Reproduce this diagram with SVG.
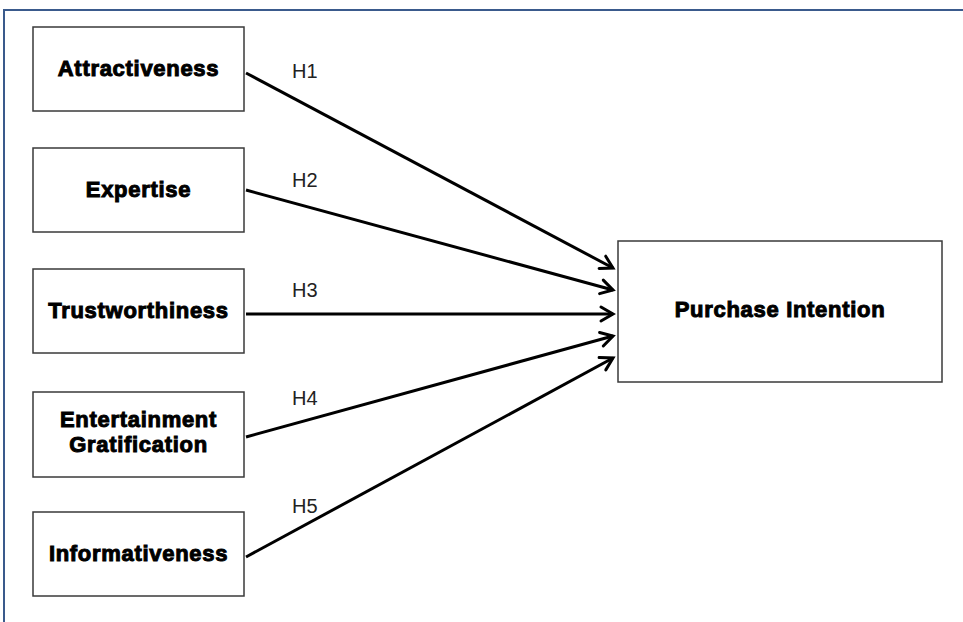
<svg xmlns="http://www.w3.org/2000/svg" width="963" height="622" viewBox="0 0 963 622">
<style>
.box{fill:#fff;stroke:#3a3a3a;stroke-width:1.5}
.lbl{font-family:"Liberation Sans",Arial,sans-serif;font-weight:bold;font-size:22px;letter-spacing:0.7px;fill:#000;stroke:#000;stroke-width:1;text-anchor:middle}
.h{font-family:"Liberation Sans",Arial,sans-serif;font-size:20px;fill:#222}
.edge{stroke:#000;stroke-width:3;fill:none;marker-end:url(#arr)}
</style>
<defs>
<marker id="arr" markerUnits="userSpaceOnUse" markerWidth="20" markerHeight="20" viewBox="0 0 20 20" refX="17" refY="10" orient="auto">
<path d="M5,3 L17,10 L5,17" fill="none" stroke="#000" stroke-width="3" stroke-linecap="round" stroke-linejoin="miter"/>
</marker>
</defs>
<rect width="963" height="622" fill="#fff"/>
<path d="M4,622 V10 H963" fill="none" stroke="#3a5a8c" stroke-width="2"/>
<g id="connectors">
<line class="edge" x1="246" y1="73" x2="613" y2="268"/>
<line class="edge" x1="246" y1="190" x2="613" y2="290"/>
<line class="edge" x1="246" y1="314" x2="613" y2="314"/>
<line class="edge" x1="246" y1="437" x2="613" y2="336"/>
<line class="edge" x1="246" y1="557" x2="613" y2="358"/>
<text class="h" x="292" y="78">H1</text>
<text class="h" x="292" y="187">H2</text>
<text class="h" x="292" y="297">H3</text>
<text class="h" x="292" y="405">H4</text>
<text class="h" x="292" y="513">H5</text>
</g>
<g id="attractiveness">
<rect class="box" x="33" y="27" width="211" height="84"/>
<text class="lbl" x="138.5" y="76">Attractiveness</text>
</g>
<g id="expertise">
<rect class="box" x="33" y="148" width="211" height="84"/>
<text class="lbl" x="138.5" y="197">Expertise</text>
</g>
<g id="trustworthiness">
<rect class="box" x="33" y="269" width="211" height="84"/>
<text class="lbl" x="138.5" y="318">Trustworthiness</text>
</g>
<g id="entertainment">
<rect class="box" x="33" y="392" width="211" height="85"/>
<text class="lbl" x="138.5" y="427">Entertainment</text>
<text class="lbl" x="138.5" y="452">Gratification</text>
</g>
<g id="informativeness">
<rect class="box" x="33" y="512" width="211" height="84"/>
<text class="lbl" x="138.5" y="561">Informativeness</text>
</g>
<g id="purchase">
<rect class="box" x="618" y="241" width="324" height="141"/>
<text class="lbl" x="780" y="317">Purchase Intention</text>
</g>
</svg>
